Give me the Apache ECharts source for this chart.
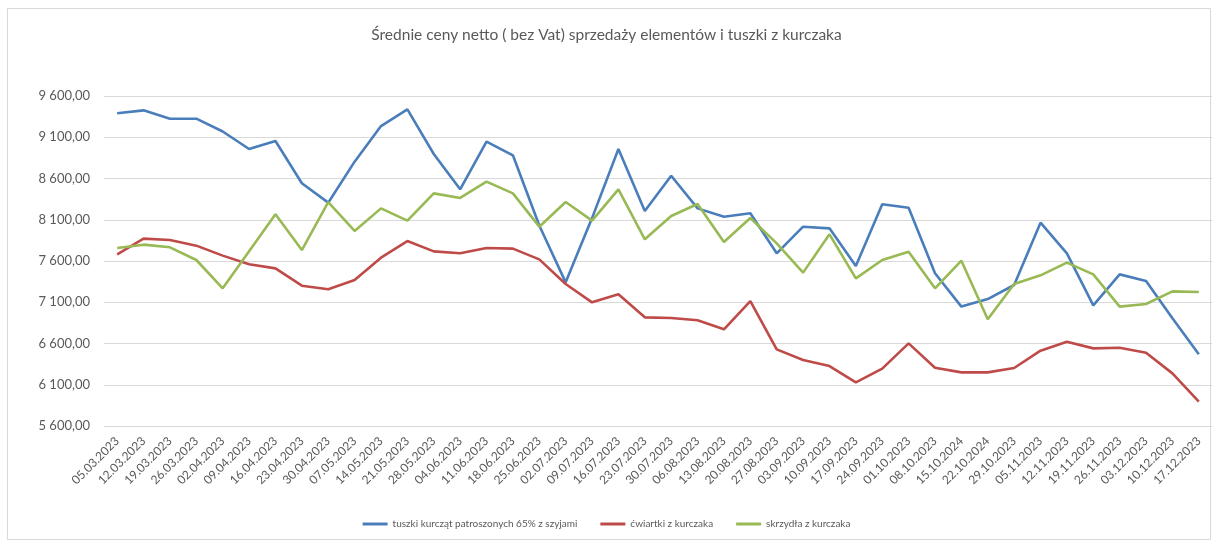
<!DOCTYPE html>
<html>
<head>
<meta charset="utf-8">
<script src="https://cdn.jsdelivr.net/npm/echarts@6/dist/echarts.min.js"></script>
<style>
html,body{margin:0;padding:0;background:#fff;}
#chart{width:1213px;height:543px;}
</style>
</head>
<body>
<div id="chart"></div>
<script>
const categories = ["05.03.2023","12.03.2023","19.03.2023","26.03.2023","02.04.2023","09.04.2023","16.04.2023","23.04.2023","30.04.2023","07.05.2023","14.05.2023","21.05.2023","28.05.2023","04.06.2023","11.06.2023","18.06.2023","25.06.2023","02.07.2023","09.07.2023","16.07.2023","23.07.2023","30.07.2023","06.08.2023","13.08.2023","20.08.2023","27.08.2023","03.09.2023","10.09.2023","17.09.2023","24.09.2023","01.10.2023","08.10.2023","15.10.2024","22.10.2024","29.10.2023","05.11.2023","12.11.2023","19.11.2023","26.11.2023","03.12.2023","10.12.2023","17.12.2023"];

const tuszki = [9390,9426,9325,9325,9170,8958,9055,8542,8307,8804,9236,9438,8897,8469,9046,8881,8030,7341,8120,8958,8206,8634,8238,8137,8178,7693,8016,7996,7539,8287,8246,7451,7047,7139,7309,8065,7693,7063,7438,7358,6905,6469];
const cwiartki = [7681,7871,7855,7786,7665,7560,7511,7301,7257,7370,7640,7842,7717,7693,7758,7750,7620,7321,7099,7196,6917,6909,6881,6772,7115,6529,6400,6327,6129,6295,6602,6307,6250,6250,6303,6513,6622,6541,6549,6489,6238,5895];
const skrzydla = [7758,7798,7766,7612,7269,7717,8166,7733,8315,7964,8238,8089,8420,8364,8562,8420,8016,8315,8089,8469,7863,8145,8291,7830,8121,7814,7459,7923,7390,7612,7713,7269,7604,6893,7321,7426,7580,7438,7047,7079,7232,7224];

const seriesNames = ["tuszki kurcząt patroszonych 65% z szyjami","ćwiartki z kurczaka","skrzydła z kurczaka"];
const yMin = 5600, yMax = 9600, yStep = 500;

function fmt(v){
  const s = Math.round(v).toString().replace(/\B(?=(\d{3})+(?!\d))/g, " ");
  return s + ",00";
}

const chart = echarts.init(document.getElementById('chart'), null, {renderer:'canvas'});
const font = 'Lato, "Open Sans", "Liberation Sans", sans-serif';
const mk = (name, data, color) => ({
  name, type:'line', data, symbol:'none', smooth:false,
  lineStyle:{color, width:2.6}, itemStyle:{color}
});
chart.setOption({
  animation:false,
  backgroundColor:'#fff',
  graphic:[{type:'rect', shape:{x:7.5,y:8.5,width:1203,height:531}, style:{fill:'none', stroke:'#d9d9d9', lineWidth:1}, silent:true}],
  title:{text:'Średnie ceny netto ( bez Vat) sprzedaży elementów i tuszki z kurczaka', left:'center', top:22,
    textStyle:{fontFamily:font, fontSize:15.5, fontWeight:'normal', color:'#595959'}},
  legend:{bottom:9, left:'center', itemWidth:25, itemHeight:3, itemGap:23, icon:'rect',
    textStyle:{fontFamily:font, fontSize:10, color:'#595959'}, data:seriesNames},
  grid:{left:104, right:1, top:96, bottom:117, containLabel:false},
  xAxis:{type:'category', data:categories, boundaryGap:true,
    axisLine:{show:true, lineStyle:{color:'#d9d9d9'}}, axisTick:{show:false},
    axisLabel:{interval:0, rotate:45, margin:13, fontFamily:font, fontSize:12, color:'#595959'}},
  yAxis:{type:'value', min:yMin, max:yMax, interval:yStep,
    axisLine:{show:false}, axisTick:{show:false},
    splitLine:{lineStyle:{color:'#d9d9d9', width:1}},
    axisLabel:{formatter:fmt, margin:14, fontFamily:font, fontSize:13, color:'#595959'}},
  series:[mk(seriesNames[0], tuszki, '#4a7ebb'), mk(seriesNames[1], cwiartki, '#be4b48'), mk(seriesNames[2], skrzydla, '#98b954')]
});
</script>
</body>
</html>
